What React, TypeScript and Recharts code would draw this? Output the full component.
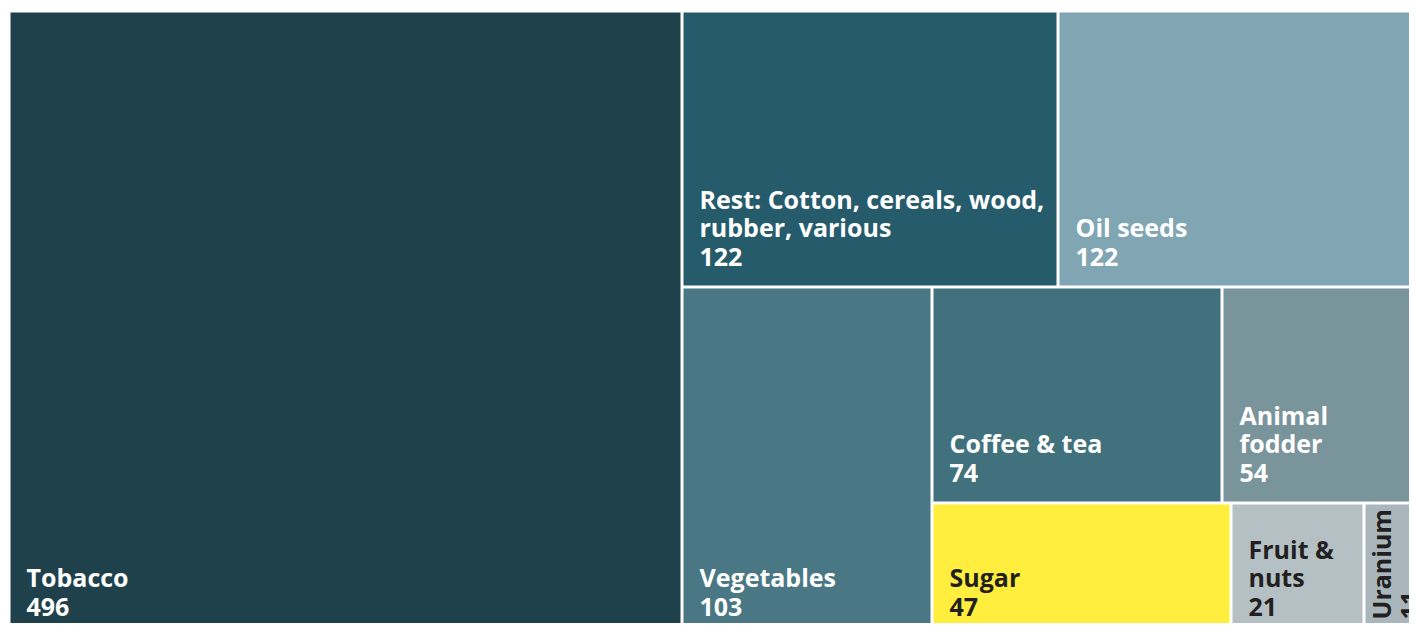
import { Treemap } from "recharts"

// values
const categories = [
  "Tobacco",
  "Rest: Cotton, cereals, wood, rubber, various",
  "Oil seeds",
  "Vegetables",
  "Coffee & tea",
  "Animal fodder",
  "Sugar",
  "Fruit & nuts",
  "Uranium",
]
const values = [496, 122, 122, 103, 74, 54, 47, 21, 11]

// label text as it is wrapped in the picture
const labelLines = [
  ["Tobacco"],
  ["Rest: Cotton, cereals, wood,", "rubber, various"],
  ["Oil seeds"],
  ["Vegetables"],
  ["Coffee & tea"],
  ["Animal", "fodder"],
  ["Sugar"],
  ["Fruit &", "nuts"],
  ["Uranium"],
]

const cellColors = [
  "#1f414b",
  "#265b6b",
  "#80a5b3",
  "#497784",
  "#41717c",
  "#7a949c",
  "#ffee3e",
  "#b5c0c5",
  "#a9b6bb",
]
const textColors = [
  "#ffffff",
  "#ffffff",
  "#ffffff",
  "#ffffff",
  "#ffffff",
  "#ffffff",
  "#231f20",
  "#231f20",
  "#231f20",
]

const leaf = (i: number) => ({
  name: categories[i],
  value: values[i],
  idx: i,
})

// groups only steer the squarified layout so it splits like the original
const treeData = [
  leaf(0),
  {
    name: "right",
    children: [
      { name: "top", children: [leaf(1), leaf(2)] },
      {
        name: "bottom",
        children: [
          leaf(3),
          {
            name: "bottom-right",
            children: [
              { name: "upper", children: [leaf(4), leaf(5)] },
              { name: "lower", children: [leaf(6), leaf(7), leaf(8)] },
            ],
          },
        ],
      },
    ],
  },
]

const FONT = "'Open Sans', 'Noto Sans', sans-serif"
const FONT_SIZE = 25
const LINE = 28.5
const GAP = 3
const PAD = 16

const TreemapCell = (props: any) => {
  const { x, y, width, height, value, idx, children } = props
  if ((children && children.length) || idx === undefined) return <g />

  const rx = x + GAP / 2
  const ry = y + GAP / 2
  const rw = width - GAP
  const rh = height - GAP
  const lines = [...labelLines[idx], String(value)]
  const rotated = rw < 80
  const color = textColors[idx]

  return (
    <g>
      <rect x={rx} y={ry} width={rw} height={rh} fill={cellColors[idx]} />
      {rotated ? (
        <text
          transform={`translate(${rx}, ${ry + rh}) rotate(-90)`}
          fill={color}
          fontFamily={FONT}
          fontWeight={700}
          fontSize={FONT_SIZE}
        >
          {lines.map((l, i) => (
            <tspan key={i} x={PAD} y={25 + i * LINE}>
              {l}
            </tspan>
          ))}
        </text>
      ) : (
        <text
          fill={color}
          fontFamily={FONT}
          fontWeight={700}
          fontSize={FONT_SIZE}
        >
          {lines.map((l, i) => (
            <tspan
              key={i}
              x={rx + PAD}
              y={ry + rh - 20 - (lines.length - 1 - i) * LINE}
            >
              {l}
            </tspan>
          ))}
        </text>
      )}
    </g>
  )
}

export default function App() {
  return (
    <div
      style={{ width: 1409, height: 623, overflow: "hidden", marginBottom: -8 }}
    >
      <div style={{ position: "relative", left: 1, top: 3 }}>
        <Treemap
          width={1425}
          height={626}
          data={treeData}
          dataKey="value"
          nameKey="name"
          aspectRatio={2}
          isAnimationActive={false}
          content={(p: any) => <TreemapCell {...p} />}
        />
      </div>
    </div>
  )
}
